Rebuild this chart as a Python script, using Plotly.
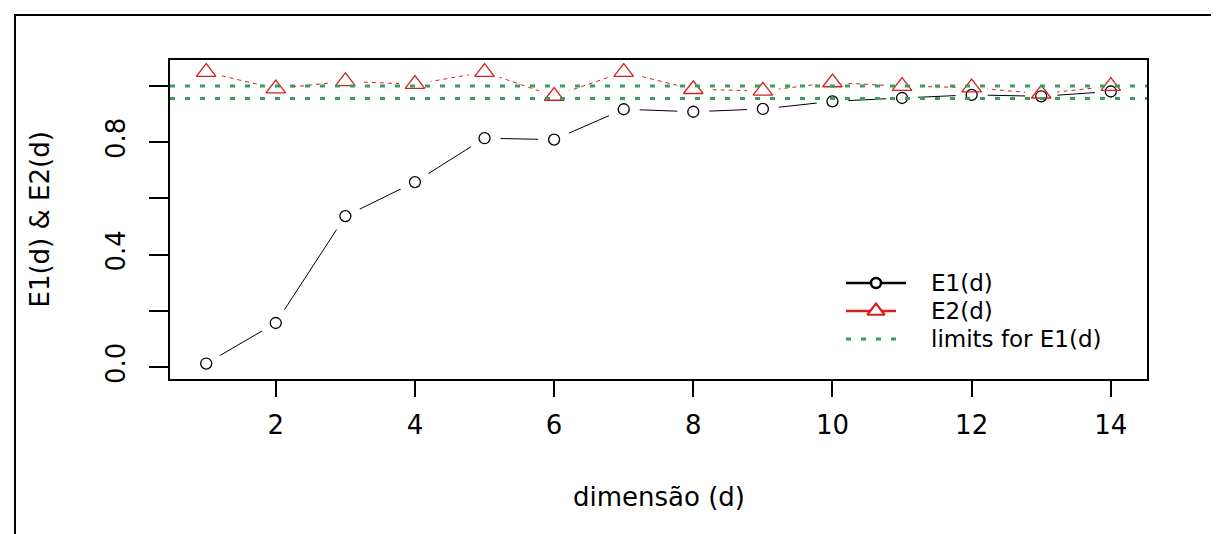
import plotly.graph_objects as go

# ---------------- data ----------------
d = list(range(1, 15))
E1 = [0.013, 0.157, 0.537, 0.658, 0.814, 0.809, 0.917, 0.908, 0.918, 0.945, 0.957, 0.968, 0.963, 0.980]
E2 = [1.049, 0.990, 1.016, 1.006, 1.049, 0.964, 1.049, 0.988, 0.982, 1.012, 0.999, 0.994, 0.972, 0.999]
limits_E1 = [0.955, 1.0]

x_ticks = [2, 4, 6, 8, 10, 12, 14]
y_ticks = [0.0, 0.2, 0.4, 0.6, 0.8, 1.0]
y_tick_labels = ["0.0", "", "0.4", "", "0.8", ""]
legend_labels = ["E1(d)", "E2(d)", "limits for E1(d)"]
x_title = "dimensão (d)"
y_title = "E1(d) & E2(d)"

# ---------------- style ----------------
RED = "#d42020"
GREEN = "#3a9d5d"
FONT = "DejaVu Sans, Liberation Sans, Arial, sans-serif"
FS = 26
LFS = 23

W, H = 1219, 534
L, R, T, B = 162, 80, 52, 163
PW, PH = W - L - R, H - T - B


def px(xp):
    return (xp - L) / PW


def py(yp):
    return (H - B - yp) / PH


fig = go.Figure()

# connecting lines (type = "b")
fig.add_trace(go.Scatter(x=d, y=E1, mode="lines", line=dict(color="black", width=1),
                         showlegend=False, hoverinfo="skip"))
fig.add_trace(go.Scatter(x=d, y=E2, mode="lines", line=dict(color=RED, width=1, dash="4px,4px"),
                         showlegend=False, hoverinfo="skip"))
# white gaps around points
for ys in (E1, E2):
    fig.add_trace(go.Scatter(x=d, y=ys, mode="markers",
                             marker=dict(symbol="circle", size=32, color="white", line=dict(width=0)),
                             showlegend=False, hoverinfo="skip"))
# points
fig.add_trace(go.Scatter(x=d, y=E1, mode="markers", name=legend_labels[0], showlegend=False,
                         marker=dict(symbol="circle-open", size=11, color="black", line=dict(width=1.3))))
fig.add_trace(go.Scatter(x=d, y=E2, mode="markers", name=legend_labels[1], showlegend=False,
                         marker=dict(symbol="triangle-up-open", size=17, color=RED, line=dict(width=1.3))))

# limits (abline)
shapes = []
for v in limits_E1:
    shapes.append(dict(type="line", xref="paper", yref="y", x0=0, x1=1, y0=v, y1=v, layer="above",
                       line=dict(color=GREEN, width=3, dash="5px,10px")))
# outer frame
shapes.append(dict(type="rect", xref="paper", yref="paper",
                   x0=px(7), x1=px(1217), y0=py(545), y1=py(7),
                   line=dict(color="black", width=2), fillcolor="rgba(0,0,0,0)", layer="above"))

# ---------------- legend (drawn manually) ----------------
rows_px = [275, 303, 331]
rows = [py(v) for v in rows_px]
lx0, lx1, lxm = px(838), px(898), px(868)
fig.add_trace(go.Scatter(x=[lx0, lx1], y=[rows[0]] * 2, xaxis="x2", yaxis="y2", mode="lines",
                         line=dict(color="black", width=2.5), showlegend=False, hoverinfo="skip"))
fig.add_trace(go.Scatter(x=[lxm], y=[rows[0]], xaxis="x2", yaxis="y2", mode="markers",
                         marker=dict(symbol="circle", size=10, color="white", line=dict(color="black", width=2.5)),
                         showlegend=False, hoverinfo="skip"))
fig.add_trace(go.Scatter(x=[lx0, px(888)], y=[rows[1]] * 2, xaxis="x2", yaxis="y2", mode="lines",
                         line=dict(color=RED, width=2.5), showlegend=False, hoverinfo="skip"))
fig.add_trace(go.Scatter(x=[lxm], y=[rows[1]], xaxis="x2", yaxis="y2", mode="markers",
                         marker=dict(symbol="triangle-up", size=15, color="white", line=dict(color=RED, width=2.2)),
                         showlegend=False, hoverinfo="skip"))
fig.add_trace(go.Scatter(x=[lx0, px(892)], y=[rows[2]] * 2, xaxis="x2", yaxis="y2", mode="lines",
                         line=dict(color=GREEN, width=3, dash="5px,10px"), showlegend=False, hoverinfo="skip"))

annotations = []
for lab, ry in zip(legend_labels, rows):
    annotations.append(dict(text=lab, x=px(922), y=ry, xref="paper", yref="paper",
                            xanchor="left", yanchor="middle", align="left", showarrow=False,
                            borderpad=0, font=dict(family=FONT, size=LFS, color="black")))
annotations.append(dict(text=x_title, x=0.5, y=py(489), xref="paper", yref="paper",
                        xanchor="center", yanchor="middle", showarrow=False,
                        font=dict(family=FONT, size=FS, color="black")))
annotations.append(dict(text=y_title, x=px(31), y=0.5, xref="paper", yref="paper", textangle=-90,
                        xanchor="center", yanchor="middle", showarrow=False,
                        font=dict(family=FONT, size=FS, color="black")))

fig.update_layout(
    width=W, height=H, autosize=False,
    margin=dict(l=L, r=R, t=T, b=B, pad=0),
    paper_bgcolor="white", plot_bgcolor="white",
    showlegend=False,
    shapes=shapes, annotations=annotations,
    xaxis=dict(range=[0.48, 14.52], tickvals=x_ticks, ticks="outside", ticklen=16, tickwidth=1.5,
               tickcolor="black", showline=True, mirror=True, linecolor="black", linewidth=1.5,
               showgrid=False, zeroline=False, ticklabelstandoff=6,
               tickfont=dict(family=FONT, size=FS, color="black")),
    yaxis=dict(range=[-0.042, 1.092], tickvals=y_ticks, ticktext=y_tick_labels, tickangle=-90,
               ticks="outside", ticklen=19, tickwidth=1.5, tickcolor="black",
               showline=True, mirror=True, linecolor="black", linewidth=1.5,
               showgrid=False, zeroline=False, ticklabelstandoff=14,
               tickfont=dict(family=FONT, size=FS, color="black")),
    xaxis2=dict(overlaying="x", range=[0, 1], visible=False),
    yaxis2=dict(overlaying="y", range=[0, 1], visible=False),
)

fig.write_html("out.html")
